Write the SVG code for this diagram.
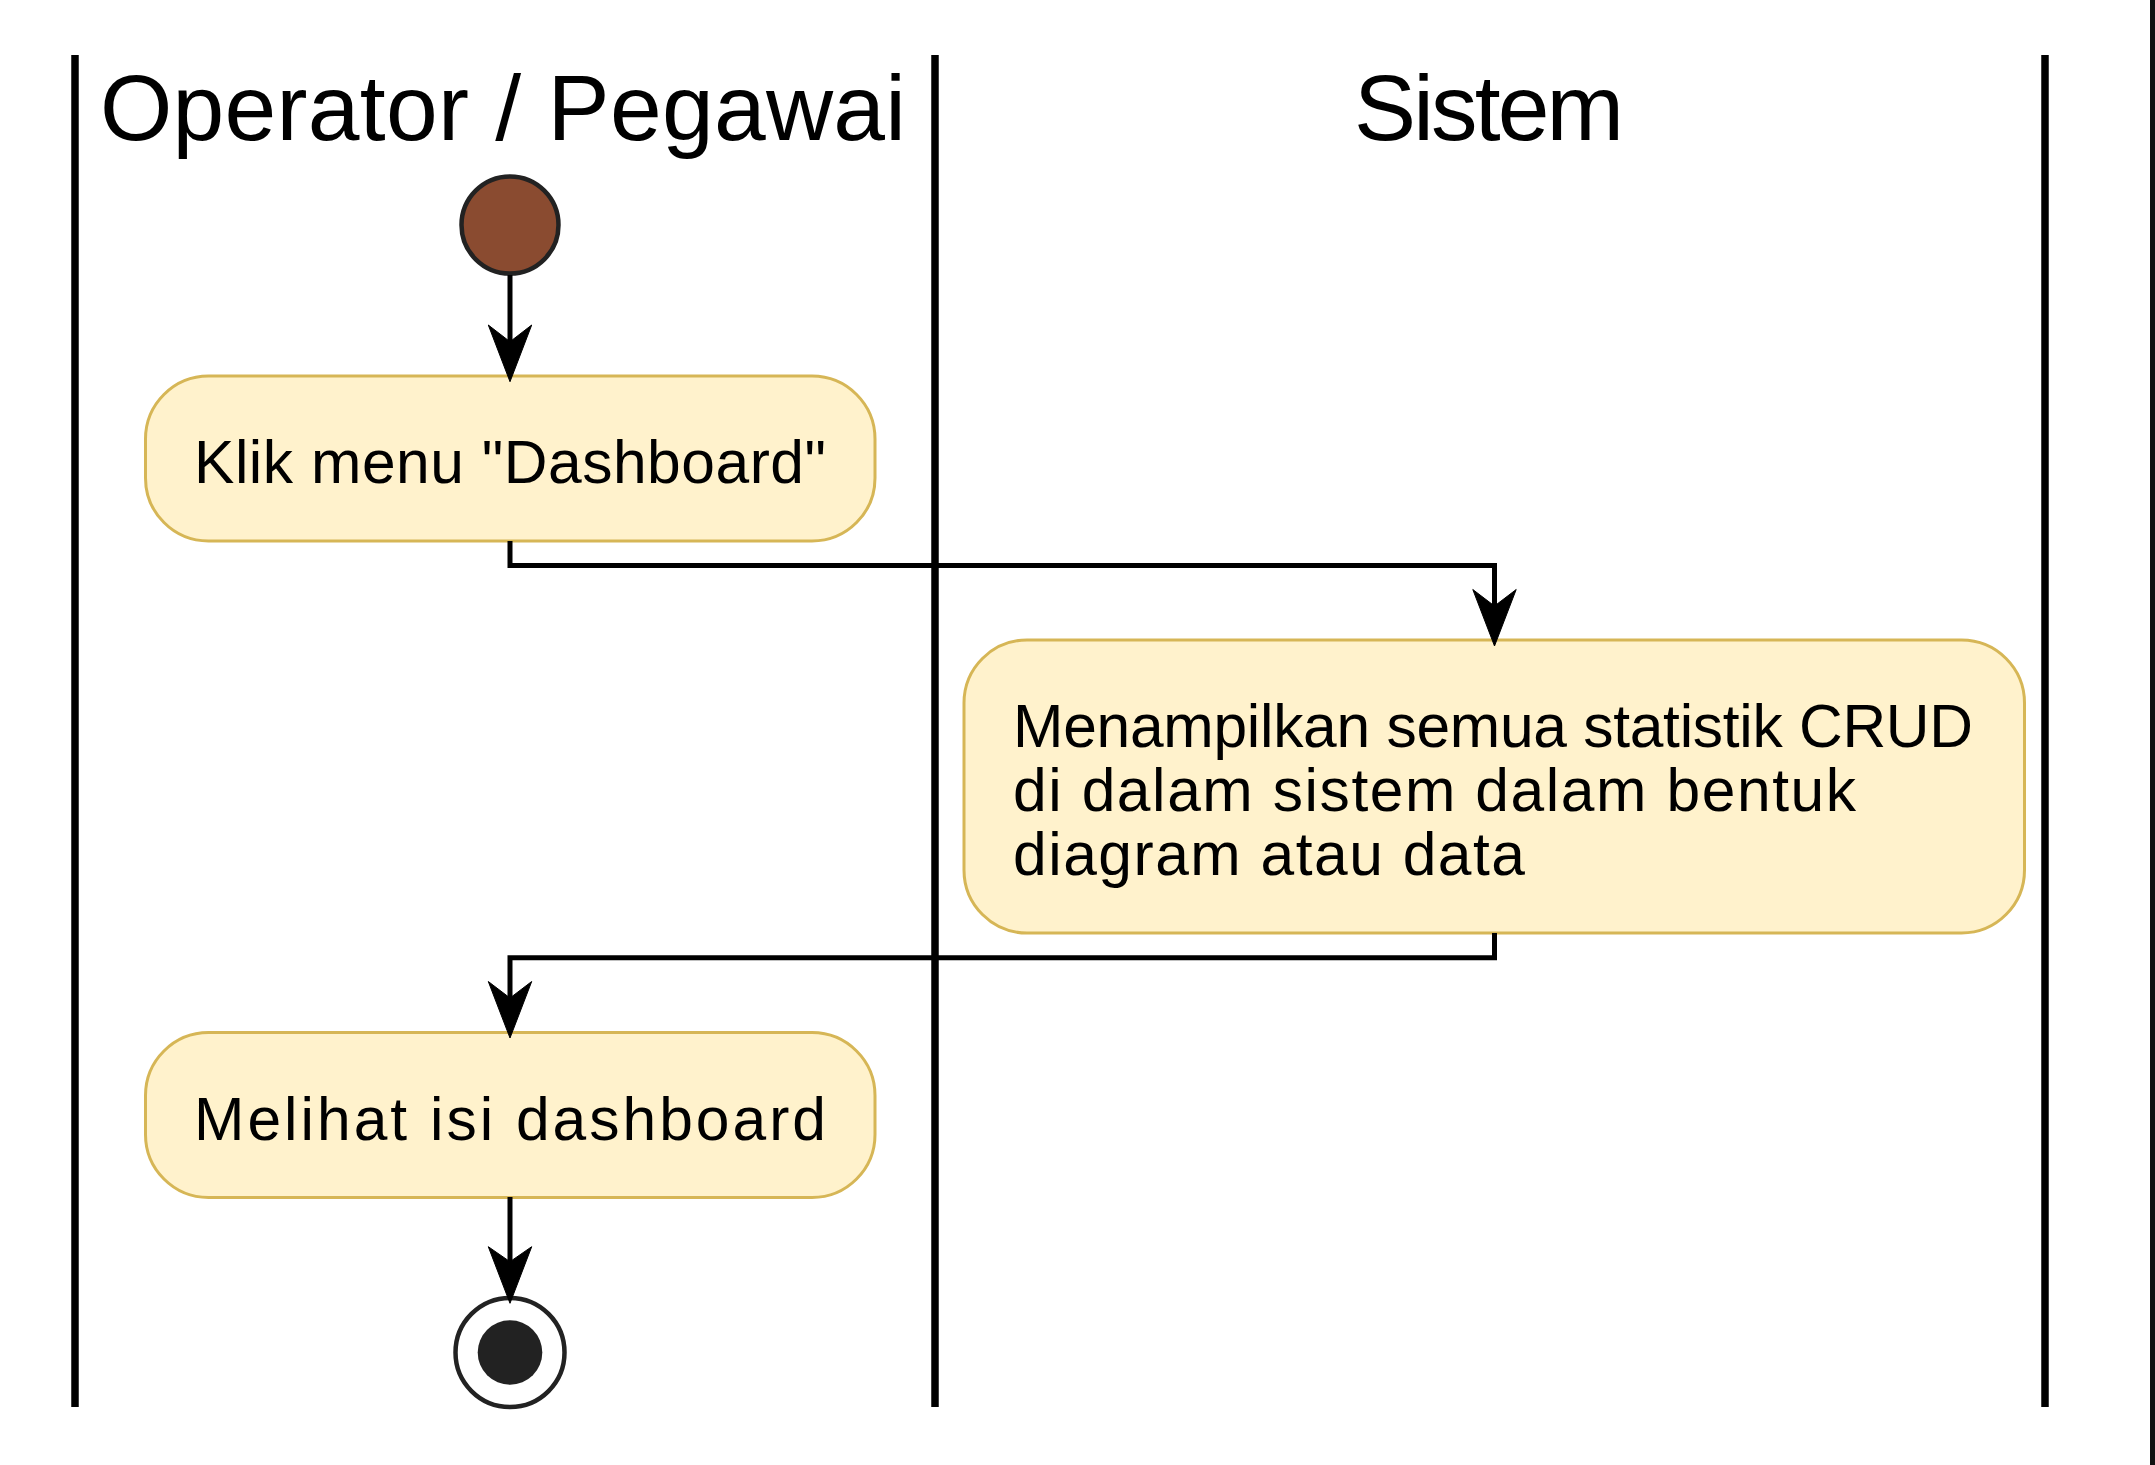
<svg xmlns="http://www.w3.org/2000/svg" width="2155" height="1465" viewBox="0 0 2155 1465">
<defs>
<style>
.lane{stroke:#000;stroke-width:7.5;fill:none}
.title{font-family:"Liberation Sans",Arial,sans-serif;font-size:93px;fill:#000}
.act rect{fill:#FFF2CC;stroke:#D6B656;stroke-width:3}
.act text{font-family:"Liberation Sans",Arial,sans-serif;font-size:60.5px;fill:#000}
.conn{stroke:#000;stroke-width:5;fill:none}
.head{fill:#000;stroke:#000;stroke-width:1}
</style>
</defs>
<rect width="2155" height="1465" fill="#fff"/>
<rect x="2150" y="0" width="5" height="1465" fill="#111"/>
<g id="lanes">
<line class="lane" x1="75" y1="55" x2="75" y2="1407"/>
<line class="lane" x1="935" y1="55" x2="935" y2="1407"/>
<line class="lane" x1="2045" y1="55" x2="2045" y2="1407"/>
<text class="title" x="100" y="140" textLength="806" lengthAdjust="spacing">Operator / Pegawai</text>
<text class="title" x="1354" y="140" textLength="270" lengthAdjust="spacing">Sistem</text>
</g>
<g id="start">
<circle cx="510" cy="225" r="48.5" fill="#8A4B30" stroke="#222" stroke-width="4.5"/>
</g>
<g id="klik" class="act">
<rect x="145.5" y="376" width="729.5" height="165" rx="63" ry="63"/>
<text x="194" y="483" textLength="632" lengthAdjust="spacing">Klik menu "Dashboard"</text>
</g>
<g id="menampilkan" class="act">
<rect x="964" y="640" width="1060.5" height="293" rx="63" ry="63"/>
<text x="1013" y="746.7" textLength="960" lengthAdjust="spacing">Menampilkan semua statistik CRUD</text>
<text x="1013" y="810.7" textLength="843" lengthAdjust="spacing">di dalam sistem dalam bentuk</text>
<text x="1013" y="875" textLength="512" lengthAdjust="spacing">diagram atau data</text>
</g>
<g id="melihat" class="act">
<rect x="145.5" y="1032.5" width="729.5" height="165" rx="63" ry="63"/>
<text x="194" y="1139.6" textLength="632" lengthAdjust="spacing">Melihat isi dashboard</text>
</g>
<g id="end">
<circle cx="510" cy="1352.5" r="54.5" fill="#fff" stroke="#222" stroke-width="4.5"/>
<circle cx="510" cy="1352.5" r="32.3" fill="#222"/>
</g>
<g id="connectors">
<path class="conn" d="M510,275 L510,350"/>
<polygon class="head" points="510,381.7 488.3,325 510,341.7 531.7,325"/>
<path class="conn" d="M510,541 L510,565.5 L1494.5,565.5 L1494.5,610"/>
<polygon class="head" points="1494.5,646 1472.8,589.5 1494.5,606 1516.2,589.5"/>
<path class="conn" d="M1494.5,933 L1494.5,957.7 L510,957.7 L510,1005"/>
<polygon class="head" points="510,1038 488.3,981.5 510,998 531.7,981.5"/>
<path class="conn" d="M510,1197 L510,1270"/>
<polygon class="head" points="510,1303.3 488.3,1246.7 510,1261.7 531.7,1246.7"/>
</g>
</svg>
